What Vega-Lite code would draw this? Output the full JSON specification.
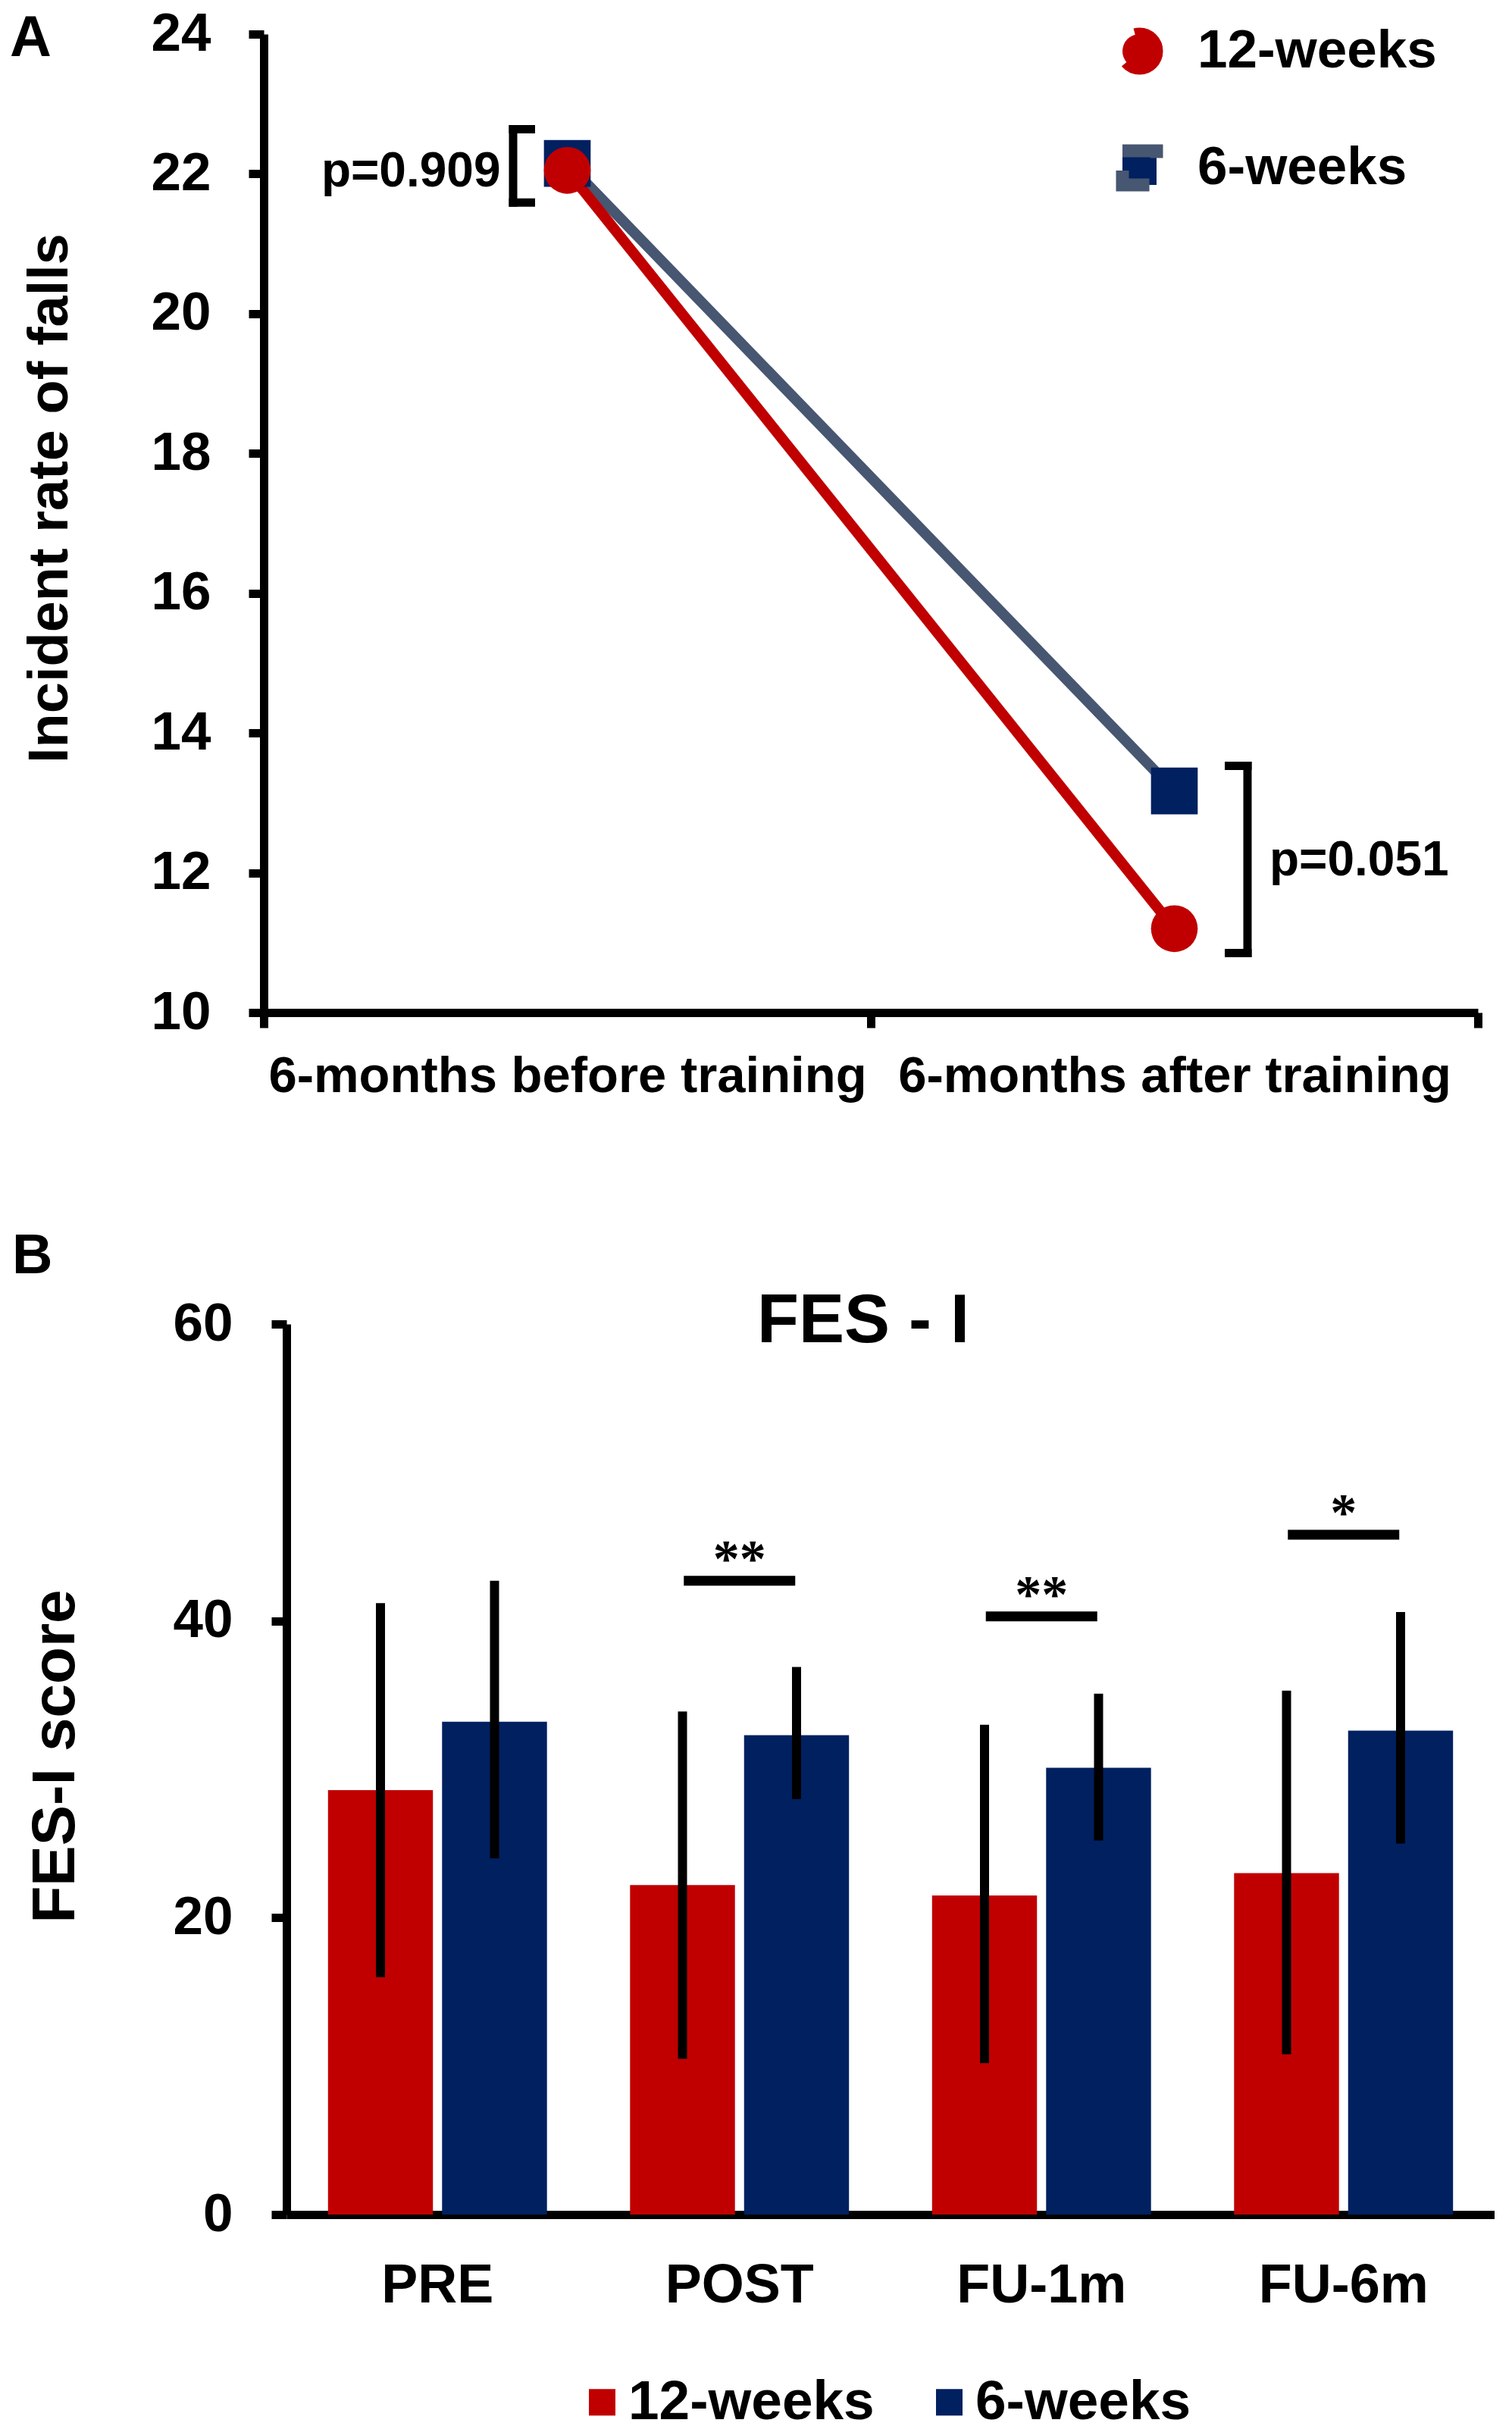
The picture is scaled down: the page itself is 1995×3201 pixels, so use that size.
{
  "$schema": "https://vega.github.io/schema/vega-lite/v6.json",
  "background": "white",
  "padding": {"left": 13, "top": 9, "right": 0, "bottom": 160},
  "bounds": "flush",
  "spacing": 411,
  "resolve": {
    "scale": {"fill": "independent", "stroke": "independent", "shape": "independent"},
    "legend": {"fill": "independent", "stroke": "independent", "shape": "independent"}
  },
  "datasets": {
    "falls": [
      {"period": "6-months before training", "group": "6-weeks", "rate": 22.15},
      {"period": "6-months after training", "group": "6-weeks", "rate": 13.17},
      {"period": "6-months before training", "group": "12-weeks", "rate": 22.05},
      {"period": "6-months after training", "group": "12-weeks", "rate": 11.2}
    ],
    "brackets": [
      {"period": "6-months before training", "lo": 21.59, "hi": 22.64, "mid": 22.03, "label": "p=0.909"},
      {"period": "6-months after training", "lo": 10.85, "hi": 13.53, "mid": 12.17, "label": "p=0.051"}
    ],
    "fes": [
      {"timepoint": "PRE", "group": "12-weeks", "mean": 28.6, "lo": 16.0, "hi": 41.2},
      {"timepoint": "PRE", "group": "6-weeks", "mean": 33.2, "lo": 24.0, "hi": 42.7},
      {"timepoint": "POST", "group": "12-weeks", "mean": 22.2, "lo": 10.5, "hi": 33.9},
      {"timepoint": "POST", "group": "6-weeks", "mean": 32.3, "lo": 28.0, "hi": 36.9},
      {"timepoint": "FU-1m", "group": "12-weeks", "mean": 21.5, "lo": 10.2, "hi": 33.0},
      {"timepoint": "FU-1m", "group": "6-weeks", "mean": 30.1, "lo": 25.2, "hi": 35.1},
      {"timepoint": "FU-6m", "group": "12-weeks", "mean": 23.0, "lo": 10.8, "hi": 35.3},
      {"timepoint": "FU-6m", "group": "6-weeks", "mean": 32.6, "lo": 25.0, "hi": 40.6}
    ],
    "sig": [
      {"timepoint": "POST", "y": 42.7, "label": "**"},
      {"timepoint": "FU-1m", "y": 40.3, "label": "**"},
      {"timepoint": "FU-6m", "y": 45.8, "label": "*"}
    ]
  },
  "config": {
    "font": "Liberation Sans",
    "view": {"stroke": null},
    "axis": {
      "grid": false, "domainColor": "#000", "tickColor": "#000", "labelColor": "#000", "titleColor": "#000",
      "labelFont": "Liberation Sans", "titleFont": "Liberation Sans",
      "labelFontWeight": "bold", "titleFontWeight": "bold",
      "labelOverlap": false, "labelFlush": false, "labelBound": false, "labelLimit": 0
    },
    "legend": {"padding": 0, "labelFont": "Liberation Sans", "labelFontWeight": "bold", "labelColor": "#000", "labelLimit": 0},
    "title": {"color": "#000", "font": "Liberation Sans", "fontWeight": "bold"}
  },
  "vconcat": [
    {
      "width": 1602,
      "height": 1291,
      "title": {"text": "A", "anchor": "start", "frame": "group", "orient": "top", "fontSize": 76, "baseline": "alphabetic", "offset": -141, "dx": -335},
      "layer": [
        {
          "data": {"name": "falls"},
          "mark": {"type": "line", "strokeWidth": 14},
          "encoding": {
            "x": {"field": "period", "type": "nominal", "sort": ["6-months before training", "6-months after training"],
              "scale": {"type": "band", "paddingInner": 0, "paddingOuter": 0},
              "axis": {"title": null, "labelAngle": 0, "labelFontSize": 67, "labelPadding": 31, "tickSize": 20, "tickWidth": 11, "domainWidth": 11, "tickBand": "extent"}},
            "y": {"field": "rate", "type": "quantitative", "scale": {"domain": [10, 24], "nice": false, "zero": false},
              "axis": {"title": "Incident rate of falls", "values": [10, 12, 14, 16, 18, 20, 22, 24], "format": "d", "labelFontSize": 71, "labelPadding": 50, "tickSize": 20, "tickWidth": 11, "domainWidth": 11,
                "titleFontSize": 74, "titleAngle": 270, "titleAlign": "center", "titleBaseline": "alphabetic", "titleX": -260, "titleY": 612}},
            "stroke": {"field": "group", "type": "nominal", "scale": {"domain": ["12-weeks", "6-weeks"], "range": ["#C00000", "#475671"]},
              "legend": {"orient": "none", "legendX": 1120, "legendY": -13, "direction": "vertical", "title": null,
                "symbolType": "M-3.42,0H-1M1,0H3.42", "symbolSize": 2025, "symbolStrokeWidth": 17, "symbolOpacity": 1,
                "labelFontSize": 71, "labelOffset": 41, "rowPadding": 41,
                "encode": {"symbols": {"update": {
                  "shape": {"signal": "datum.value === '12-weeks' ? 'M-3.42,0H3.42L1,0A1,1 0 1 1 -1,0A1,1 0 1 1 1,0' : 'M-3.42,0H3.42L1,0V-1H-1V1H1V0'"},
                  "fill": {"signal": "datum.value === '12-weeks' ? '#C00000' : '#002060'"},
                  "strokeDash": {"value": [54.45, 45, 54.45, 3000]},
                  "strokeWidth": {"value": 17},
                  "opacity": {"value": 1}
                }}}}}
          }
        },
        {
          "data": {"name": "falls"},
          "mark": {"type": "point", "filled": true, "size": 3800, "opacity": 1, "strokeWidth": 0},
          "encoding": {
            "x": {"field": "period", "type": "nominal", "sort": ["6-months before training", "6-months after training"]},
            "y": {"field": "rate", "type": "quantitative", "scale": {"domain": [10, 24], "nice": false, "zero": false}},
            "fill": {"field": "group", "type": "nominal", "scale": {"domain": ["12-weeks", "6-weeks"], "range": ["#C00000", "#002060"]}, "legend": null},
            "shape": {"field": "group", "type": "nominal", "scale": {"domain": ["12-weeks", "6-weeks"], "range": ["circle", "square"]}, "legend": null}
          }
        },
        {
          "data": {"name": "brackets"},
          "transform": [{"filter": "datum.label == 'p=0.909'"}],
          "mark": {"type": "rule", "strokeWidth": 11, "xOffset": -71.5, "color": "#000", "strokeCap": "square"},
          "encoding": {
            "x": {"field": "period", "type": "nominal", "sort": ["6-months before training", "6-months after training"]},
            "y": {"field": "lo", "type": "quantitative", "scale": {"domain": [10, 24], "nice": false, "zero": false}},
            "y2": {"field": "hi"}
          }
        },
        {
          "data": {"name": "brackets"},
          "transform": [{"filter": "datum.label == 'p=0.909'"}, {"fold": ["lo", "hi"], "as": ["end", "v"]}],
          "mark": {"type": "tick", "thickness": 11, "size": 34.5, "xOffset": -59.75, "color": "#000", "opacity": 1},
          "encoding": {
            "x": {"field": "period", "type": "nominal", "sort": ["6-months before training", "6-months after training"]},
            "y": {"field": "v", "type": "quantitative", "scale": {"domain": [10, 24], "nice": false, "zero": false}}
          }
        },
        {
          "data": {"name": "brackets"},
          "transform": [{"filter": "datum.label == 'p=0.051'"}],
          "mark": {"type": "rule", "strokeWidth": 11, "xOffset": 96.5, "color": "#000", "strokeCap": "square"},
          "encoding": {
            "x": {"field": "period", "type": "nominal", "sort": ["6-months before training", "6-months after training"]},
            "y": {"field": "lo", "type": "quantitative", "scale": {"domain": [10, 24], "nice": false, "zero": false}},
            "y2": {"field": "hi"}
          }
        },
        {
          "data": {"name": "brackets"},
          "transform": [{"filter": "datum.label == 'p=0.051'"}, {"fold": ["lo", "hi"], "as": ["end", "v"]}],
          "mark": {"type": "tick", "thickness": 11, "size": 35.5, "xOffset": 84.25, "color": "#000", "opacity": 1},
          "encoding": {
            "x": {"field": "period", "type": "nominal", "sort": ["6-months before training", "6-months after training"]},
            "y": {"field": "v", "type": "quantitative", "scale": {"domain": [10, 24], "nice": false, "zero": false}}
          }
        },
        {
          "data": {"name": "brackets"},
          "transform": [{"filter": "datum.label == 'p=0.909'"}],
          "mark": {"type": "text", "align": "right", "baseline": "middle", "dx": -88, "fontSize": 64, "fontWeight": "bold", "color": "#000"},
          "encoding": {
            "x": {"field": "period", "type": "nominal", "sort": ["6-months before training", "6-months after training"]},
            "y": {"field": "mid", "type": "quantitative", "scale": {"domain": [10, 24], "nice": false, "zero": false}},
            "text": {"field": "label"}
          }
        },
        {
          "data": {"name": "brackets"},
          "transform": [{"filter": "datum.label == 'p=0.051'"}],
          "mark": {"type": "text", "align": "left", "baseline": "middle", "dx": 125.5, "fontSize": 64, "fontWeight": "bold", "color": "#000"},
          "encoding": {
            "x": {"field": "period", "type": "nominal", "sort": ["6-months before training", "6-months after training"]},
            "y": {"field": "mid", "type": "quantitative", "scale": {"domain": [10, 24], "nice": false, "zero": false}},
            "text": {"field": "label"}
          }
        }
      ]
    },
    {
      "title": {"text": "B", "anchor": "start", "frame": "group", "orient": "top", "fontSize": 74, "baseline": "alphabetic", "offset": -55, "dx": -332},
      "resolve": {"scale": {"fill": "independent"}, "legend": {"fill": "independent"}},
      "vconcat": [
        {
          "width": 1624,
          "height": 1175,
          "title": {"text": "FES - I", "anchor": "middle", "frame": "group", "orient": "top", "fontSize": 90, "baseline": "alphabetic", "offset": -150, "dx": -21},
          "layer": [
            {
              "data": {"name": "fes"},
              "mark": {"type": "bar"},
              "encoding": {
                "x": {"field": "timepoint", "type": "nominal", "sort": ["PRE", "POST", "FU-1m", "FU-6m"],
                  "scale": {"range": [30, 1624], "paddingInner": 0.275, "paddingOuter": 0.1375},
                  "axis": {"title": null, "labelAngle": 0, "labelFontSize": 72, "labelPadding": 58, "ticks": false, "domainWidth": 11}},
                "xOffset": {"field": "group", "type": "nominal", "sort": ["12-weeks", "6-weeks"], "scale": {"paddingInner": 0.08, "paddingOuter": 0}},
                "y": {"field": "mean", "type": "quantitative", "scale": {"domain": [0, 60], "nice": false},
                  "axis": {"title": "FES-I score", "values": [0, 20, 40, 60], "offset": -30, "labelFontSize": 71, "labelPadding": 51, "tickSize": 20, "tickWidth": 11, "domainWidth": 11,
                    "titleFontSize": 80, "titleAngle": 270, "titleAlign": "center", "titleBaseline": "alphabetic", "titleX": -281, "titleY": 570}},
                "fill": {"field": "group", "type": "nominal", "scale": {"domain": ["12-weeks", "6-weeks"], "range": ["#C00000", "#002060"]},
                  "legend": {"orient": "none", "legendX": 410, "legendY": 1386, "direction": "horizontal", "title": null,
                    "symbolType": "square", "symbolSize": 1225, "symbolStrokeWidth": 0, "symbolOpacity": 1,
                    "labelFontSize": 73, "labelOffset": -2, "columnPadding": 62}}
              }
            },
            {
              "data": {"name": "fes"},
              "mark": {"type": "rule", "strokeWidth": 12, "color": "#000"},
              "encoding": {
                "x": {"field": "timepoint", "type": "nominal", "sort": ["PRE", "POST", "FU-1m", "FU-6m"]},
                "xOffset": {"field": "group", "type": "nominal", "sort": ["12-weeks", "6-weeks"]},
                "y": {"field": "lo", "type": "quantitative", "scale": {"domain": [0, 60], "nice": false}},
                "y2": {"field": "hi"}
              }
            },
            {
              "data": {"name": "sig"},
              "mark": {"type": "tick", "thickness": 13, "size": 147, "color": "#000", "opacity": 1},
              "encoding": {
                "x": {"field": "timepoint", "type": "nominal", "sort": ["PRE", "POST", "FU-1m", "FU-6m"]},
                "y": {"field": "y", "type": "quantitative", "scale": {"domain": [0, 60], "nice": false}}
              }
            },
            {
              "data": {"name": "sig"},
              "mark": {"type": "text", "fontSize": 70, "font": "Liberation Serif", "fontWeight": "bold", "baseline": "alphabetic", "align": "center", "dy": -6, "color": "#000"},
              "encoding": {
                "x": {"field": "timepoint", "type": "nominal", "sort": ["PRE", "POST", "FU-1m", "FU-6m"]},
                "y": {"field": "y", "type": "quantitative", "scale": {"domain": [0, 60], "nice": false}},
                "text": {"field": "label"}
              }
            }
          ]
        }
      ]
    }
  ]
}
